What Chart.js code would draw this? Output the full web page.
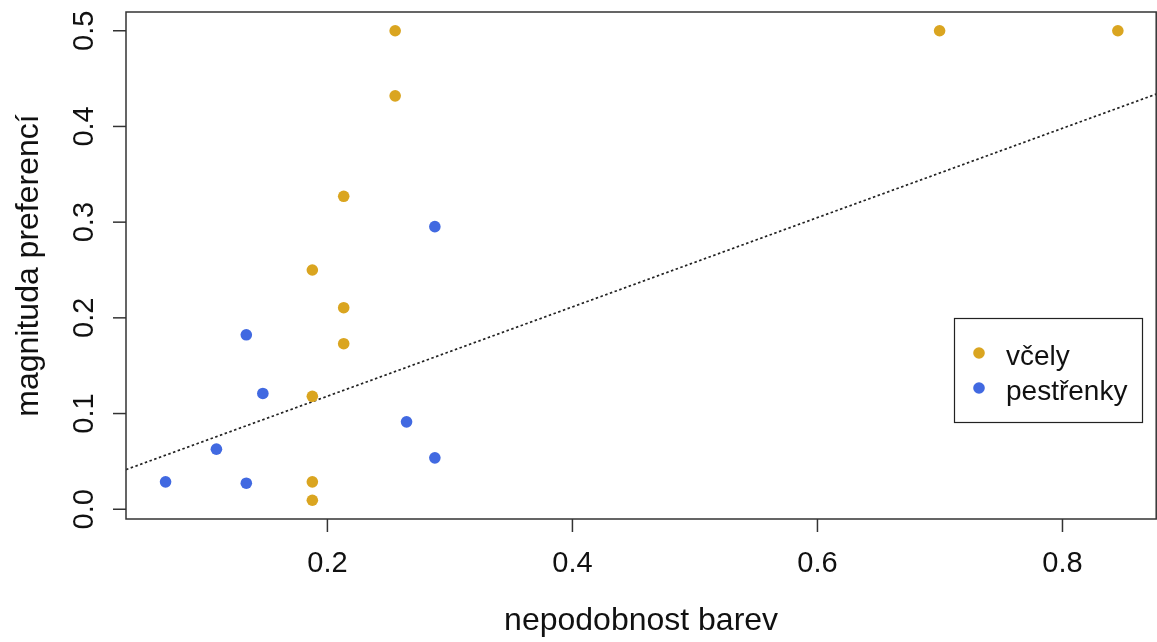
<!DOCTYPE html>
<html>
<head>
<meta charset="utf-8">
<title>magnituda preferencí</title>
<script src="https://cdn.jsdelivr.net/npm/chart.js@4/dist/chart.umd.min.js"></script>
<style>
  html, body { margin: 0; padding: 0; background: #fff; overflow: hidden; }
  canvas { display: block; }
</style>
</head>
<body>
<canvas id="graf" width="1162" height="642"></canvas>
<script>
// včely
const vcelyX = [0.2553, 0.2553, 0.6997, 0.8452, 0.2133, 0.1877, 0.2133, 0.2133, 0.1877, 0.1877, 0.1877];
const vcelyY = [0.500, 0.432, 0.500, 0.500, 0.327, 0.250, 0.2106, 0.173, 0.118, 0.0286, 0.0094];
// pestřenky
const pestrenkyX = [0.2877, 0.1338, 0.1473, 0.1094, 0.0679, 0.1338, 0.2646, 0.2877];
const pestrenkyY = [0.2953, 0.1823, 0.121, 0.0628, 0.0286, 0.0272, 0.0913, 0.0537];

// přímka (intercept, sklon)
const primkaA = 0.0248;
const primkaB = 0.4666;

const xTicks = [0.2, 0.4, 0.6, 0.8];
const yTicks = [0.0, 0.1, 0.2, 0.3, 0.4, 0.5];
const xLimits = [0.0356, 0.8765];
const yLimits = [-0.0102, 0.5196];

const barvy = { vcely: '#DAA520', pestrenky: '#4169E1' };
const font = '"Liberation Sans", Arial, sans-serif';

const toPoints = (xs, ys) => xs.map((x, i) => ({ x: x, y: ys[i] }));

// osy, rámeček a legenda ve stylu base R
const rOsy = {
    id: 'rOsy',
    afterDraw(chart) {
        const ctx = chart.ctx;
        const a = chart.chartArea;
        const sx = chart.scales.x;
        const sy = chart.scales.y;
        ctx.save();
        ctx.strokeStyle = '#333';
        ctx.lineWidth = 1.5;
        ctx.strokeRect(a.left, a.top, a.right - a.left, a.bottom - a.top);

        ctx.fillStyle = '#111';
        ctx.font = '29px ' + font;
        ctx.textAlign = 'center';
        ctx.textBaseline = 'alphabetic';
        xTicks.forEach(v => {
            const px = sx.getPixelForValue(v);
            ctx.beginPath();
            ctx.moveTo(px, a.bottom);
            ctx.lineTo(px, a.bottom + 13);
            ctx.stroke();
            ctx.fillText(v.toFixed(1), px, 572);
        });
        yTicks.forEach(v => {
            const py = sy.getPixelForValue(v);
            ctx.beginPath();
            ctx.moveTo(a.left, py);
            ctx.lineTo(a.left - 13, py);
            ctx.stroke();
            ctx.save();
            ctx.translate(93, py);
            ctx.rotate(-Math.PI / 2);
            ctx.fillText(v.toFixed(1), 0, 0);
            ctx.restore();
        });

        ctx.font = '32px ' + font;
        ctx.fillText('nepodobnost barev', (a.left + a.right) / 2, 630);
        ctx.save();
        ctx.translate(38, (a.top + a.bottom) / 2);
        ctx.rotate(-Math.PI / 2);
        ctx.fillText('magnituda preferencí', 0, 0);
        ctx.restore();

        // legenda
        ctx.lineWidth = 1.2;
        ctx.strokeStyle = '#222';
        ctx.strokeRect(954.5, 318.5, 188, 104);
        ctx.font = '28px ' + font;
        ctx.textAlign = 'left';
        chart.data.datasets.filter(d => d.type !== 'line').forEach((d, i) => {
            const y = 353 + i * 35;
            ctx.fillStyle = d.backgroundColor;
            ctx.beginPath();
            ctx.arc(979, y, 5.8, 0, Math.PI * 2);
            ctx.fill();
            ctx.fillStyle = '#111';
            ctx.fillText(d.label, 1006, y + 12);
        });
        ctx.restore();
    }
};

new Chart(document.getElementById('graf'), {
    type: 'scatter',
    data: {
        datasets: [
            {
                label: 'včely',
                data: toPoints(vcelyX, vcelyY),
                backgroundColor: barvy.vcely,
                borderWidth: 0,
                pointRadius: 5.8
            },
            {
                label: 'pestřenky',
                data: toPoints(pestrenkyX, pestrenkyY),
                backgroundColor: barvy.pestrenky,
                borderWidth: 0,
                pointRadius: 5.8
            },
            {
                type: 'line',
                label: 'trend',
                data: xLimits.map(x => ({ x: x, y: primkaA + primkaB * x })),
                borderColor: '#222',
                borderWidth: 1.7,
                borderDash: [2.5, 2.5],
                pointRadius: 0,
                fill: false
            }
        ]
    },
    options: {
        responsive: false,
        animation: false,
        layout: { padding: { left: 126, top: 12, right: 3, bottom: 123 } },
        scales: {
            x: { type: 'linear', min: xLimits[0], max: xLimits[1], display: false },
            y: { type: 'linear', min: yLimits[0], max: yLimits[1], display: false }
        },
        plugins: {
            legend: { display: false },
            tooltip: { enabled: false }
        }
    },
    plugins: [rOsy]
});
</script>
</body>
</html>
